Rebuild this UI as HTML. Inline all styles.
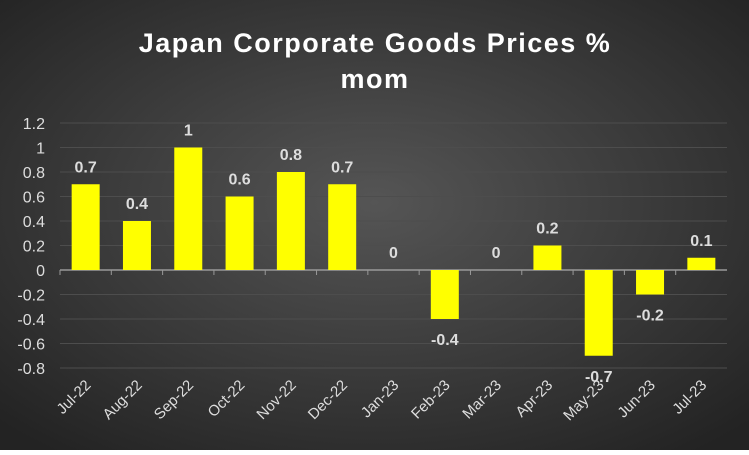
<!DOCTYPE html>
<html><head><meta charset="utf-8"><style>
body{margin:0;width:749px;height:450px;overflow:hidden;font-family:"Liberation Sans",sans-serif}
</style></head><body>
<svg width="749" height="450" xmlns="http://www.w3.org/2000/svg">
<defs><radialGradient id="bg" cx="50%" cy="45%" r="70%"><stop offset="0" stop-color="#555"/><stop offset="1" stop-color="#232323"/></radialGradient></defs>
<rect width="749" height="450" fill="url(#bg)"/>
<text x="375" y="52" text-anchor="middle" fill="#fff" font-size="27" font-weight="bold" letter-spacing="1.5">Japan Corporate Goods Prices %</text>
<text x="375" y="88" text-anchor="middle" fill="#fff" font-size="27" font-weight="bold" letter-spacing="1.5">mom</text>
<g id="g"></g>
</svg>
<script>
const categories=["Jul-22","Aug-22","Sep-22","Oct-22","Nov-22","Dec-22","Jan-23","Feb-23","Mar-23","Apr-23","May-23","Jun-23","Jul-23"];
const values=[0.7,0.4,1,0.6,0.8,0.7,0,-0.4,0,0.2,-0.7,-0.2,0.1];
const yTicks=[1.2,1,0.8,0.6,0.4,0.2,0,-0.2,-0.4,-0.6,-0.8];
const L=60,R=727,Y0=270,PU=122.5;
const y=v=>Y0-v*PU, cw=(R-L)/categories.length, xc=i=>L+cw*(i+0.5);
const g=document.getElementById('g'),NS="http://www.w3.org/2000/svg";
function mk(t,a,txt){const e=document.createElementNS(NS,t);for(const k in a)e.setAttribute(k,a[k]);if(txt!==undefined)e.textContent=txt;g.appendChild(e);return e;}
yTicks.forEach(t=>{
 const l=mk('line',{x1:L,x2:R,y1:y(t),y2:y(t),stroke:t===0?'#999':'#4d4d4d','stroke-width':t===0?1.5:1});
 
 
 const tx=mk('text',{x:45,y:y(t)+6,'text-anchor':'end',fill:'#ddd','font-size':16},String(t));
 
 
});
categories.forEach((c,i)=>{
 const tk=mk('line',{x1:L+cw*i,x2:L+cw*i,y1:Y0,y2:Y0+5,stroke:'#999'});
 
 
 const v=values[i],bw=28;
 const b=mk('rect',{x:xc(i)-bw/2,y:Math.min(y(v),Y0),width:bw,height:Math.abs(y(v)-Y0),fill:'#ffff00'});
 
 
 const ly=v>=0?y(v)-12:y(v)+26;
 const lb=mk('text',{x:xc(i),y:v===0?y(0)-12:ly,'text-anchor':'middle',fill:'#ddd','font-size':16,'font-weight':'bold'},String(v));
 
 
 const xl=mk('text',{x:xc(i)+6,y:386,'text-anchor':'end',fill:'#ddd','font-size':15,transform:`rotate(-45 ${xc(i)+6} 386)`},c);
 
 
});
</script>
</body></html>
